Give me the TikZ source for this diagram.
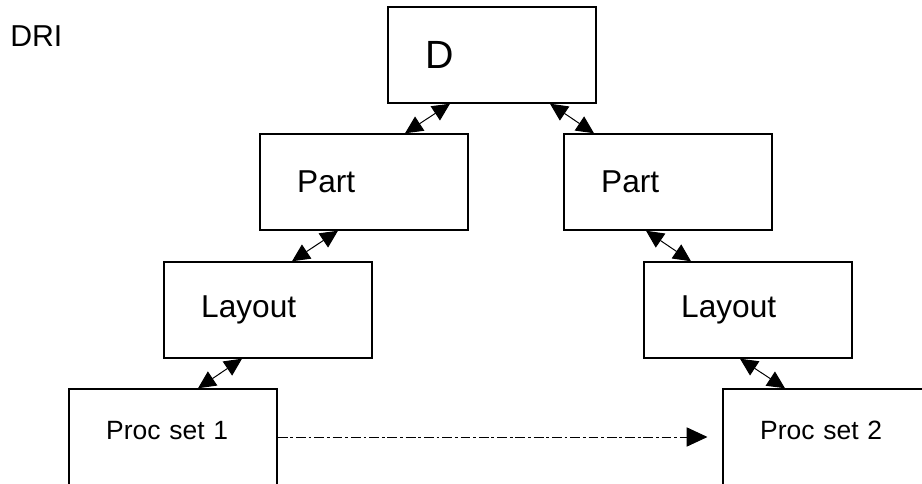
\documentclass[tikz,border=0pt]{standalone}
\usepackage{fontspec}
\setmainfont{Liberation Sans}
\usetikzlibrary{arrows.meta}
\usetikzlibrary{calc}
\tikzset{
  blk/.style={draw,line width=1pt,minimum width=5.2cm,minimum height=2.4cm,
    inner xsep=0.93cm,text width=3.34cm,align=left},
  link/.style={{Triangle[length=0.44cm,width=0.42cm]}-{Triangle[length=0.44cm,width=0.42cm]},line width=0.7pt}
}
\begin{document}
\begin{tikzpicture}[x=0.025cm,y=-0.025cm]
\useasboundingbox (0,0) rectangle (922,484);
\clip (0,0) rectangle (922,484);
\node[anchor=base west,inner sep=0,font=\fontsize{21.5}{25}\selectfont] (title) at (10,47) {DRI};
\node[blk,font=\fontsize{28}{32}\selectfont] (d) at (492,55) {D};
\node[blk,font=\fontsize{22.5}{26}\selectfont] (partl) at (364,182) {Part};
\node[blk,font=\fontsize{22.5}{26}\selectfont] (partr) at (668,182) {Part};
\node[blk,font=\fontsize{22.5}{26}\selectfont] (layoutl) at (268,310) {Layout};
\node[blk,font=\fontsize{22.5}{26}\selectfont] (layoutr) at (748,310) {Layout};
\node[blk,font=\fontsize{18.8}{22}\selectfont,text depth=10pt] (proc1) at (173,437) {Proc set 1};
\node[blk,font=\fontsize{18.8}{22}\selectfont,text depth=10pt] (proc2) at (827,437) {Proc set 2};
\draw[link] ($(d.south)+(-42,0)$) -- ($(partl.north)+(41,0)$);
\draw[link] ($(d.south)+(58,0)$) -- ($(partr.north)+(-74,0)$);
\draw[link] ($(partl.south)+(-26,0)$) -- ($(layoutl.north)+(24,0)$);
\draw[link] ($(partr.south)+(-22,0)$) -- ($(layoutr.north)+(-57,0)$);
\draw[link] ($(layoutl.south)+(-26,0)$) -- ($(proc1.north)+(25,0)$);
\draw[link] ($(layoutr.south)+(-8,0)$) -- ($(proc2.north)+(-42,0)$);
\draw[-{Triangle[length=0.52cm,width=0.48cm]},line width=0.7pt,
  dash pattern=on 7pt off 2pt on 2pt off 2pt,shorten >=0.37cm] (proc1.east) -- (proc2.west);
\end{tikzpicture}
\end{document}
